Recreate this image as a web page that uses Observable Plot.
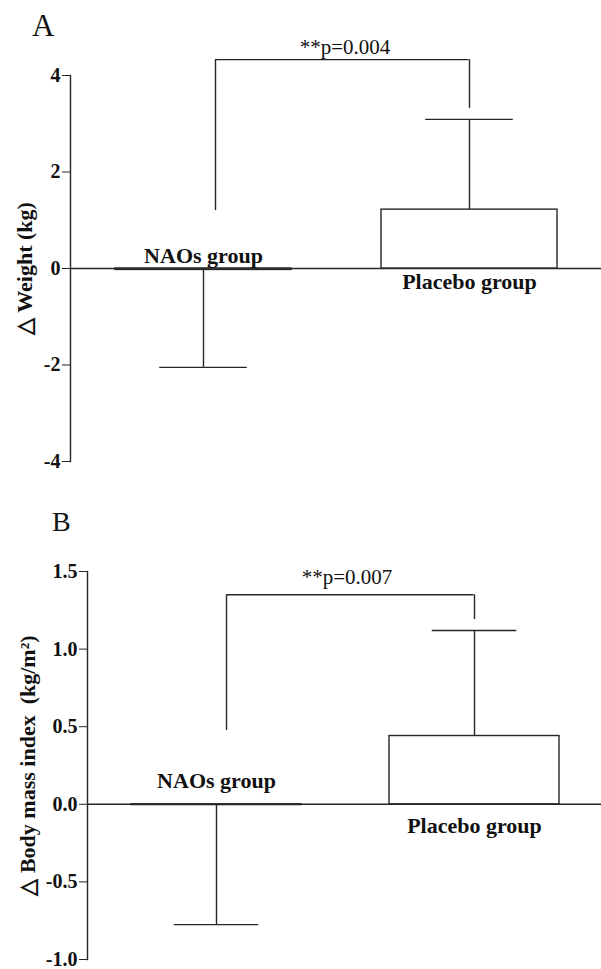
<!DOCTYPE html>
<html><head><meta charset="utf-8">
<script src="https://cdn.jsdelivr.net/npm/d3@7"></script>
<script src="https://cdn.jsdelivr.net/npm/@observablehq/plot@0.6"></script>
<style>
html,body{margin:0;padding:0;background:#fff;}
#wrap{position:relative;width:601px;height:969px;overflow:hidden;background:#fff;}
.letter{position:absolute;line-height:1;font-family:'Liberation Serif',serif;color:#111;}
.panel{position:absolute;left:0;}
</style></head><body>
<div id="wrap">
  <div class="panel" id="pa" style="top:0"></div>
  <div class="panel" id="pb" style="top:485px"></div>
  <div class="letter" style="left:32px;top:10px;font-size:31px">A</div>
  <div class="letter" style="left:52px;top:508px;font-size:28px">B</div>
</div>
<script>
// Categories
const groups = ["NAOs group", "Placebo group"];

// Panel A: change in weight (kg)
const weightMean = [-0.03, 1.22];
const weightSD = [2.02, 1.87];
const weightTicks = [-4, -2, 0, 2, 4];
const weightBracket = [4.33, 1.2, 3.32]; // top, left leg bottom, right leg bottom
const weightP = "**p=0.004";
const weightLabel = "△ Weight (kg)";

// Panel B: change in BMI (kg/m²)
const bmiMean = [-0.005, 0.44];
const bmiSD = [0.77, 0.68];
const bmiTicks = [-1, -0.5, 0, 0.5, 1, 1.5];
const bmiBracket = [1.35, 0.476, 1.19];
const bmiP = "**p=0.007";
const bmiLabel = "△ Body mass index  (kg/m²)";

const ink = "#262626";

function panel(o) {
  const rows = groups.map((g, i) => ({
    group: g,
    mean: o.mean[i],
    end: o.mean[i] + Math.sign(o.mean[i]) * o.sd[i]
  }));
  const br = [{from: groups[0], to: groups[1], top: o.bracket[0], lb: o.bracket[1], rb: o.bracket[2]}];
  const n = groups.length, pi = o.paddingInner, po = o.paddingOuter;
  const step = (o.range[1] - o.range[0]) / (n - pi + 2 * po);
  const bw = step * (1 - pi);
  return Plot.plot({
    width: 601, height: o.height,
    marginTop: o.marginTop, marginBottom: o.marginBottom, marginLeft: o.marginLeft, marginRight: 0,
    style: {fontFamily: "'Liberation Serif', serif", background: "white", color: "#111", overflow: "visible"},
    x: {type: "band", domain: groups, range: o.range, paddingInner: pi, paddingOuter: po, align: 0.5, axis: null},
    y: {domain: o.domain},
    marks: [
      Plot.ruleY([0], {stroke: ink, strokeWidth: 1.6}),
      Plot.barY(rows, {x: "group", y: "mean", fill: "white", stroke: ink, strokeWidth: 1.4}),
      Plot.ruleX(rows, {x: "group", y1: "mean", y2: "end", stroke: ink, strokeWidth: 1.4}),
      Plot.tickY(rows, {x: "group", y: "end", inset: bw * 0.25, stroke: ink, strokeWidth: 1.4}),
      Plot.frame({anchor: "left", stroke: ink, strokeWidth: 1.4}),
      Plot.axisY({ticks: o.ticks, tickFormat: o.format, tickSize: 8, tickPadding: 2, fontSize: 20, fontWeight: "bold", label: null, stroke: ink}),
      Plot.text([o.yLabel], {frameAnchor: "left", textAnchor: "middle", rotate: -90, dx: o.labelDx, fontSize: 22, fontWeight: "bold"}),
      Plot.text(rows.filter(d => d.mean < 0), {x: "group", y: () => 0, text: "group", lineAnchor: "bottom", dy: o.negDy, fontSize: 22, fontWeight: "bold"}),
      Plot.text(rows.filter(d => d.mean >= 0), {x: "group", y: () => 0, text: "group", lineAnchor: "top", dy: o.posDy, fontSize: 22, fontWeight: "bold"}),
      Plot.ruleX(br, {x: "from", y1: "lb", y2: "top", dx: o.legOffset, stroke: ink, strokeWidth: 1.4}),
      Plot.ruleX(br, {x: "to", y1: "rb", y2: "top", stroke: ink, strokeWidth: 1.4}),
      Plot.ruleY(br, {y: "top", x1: "from", x2: "to", insetLeft: bw / 2 + o.legOffset, insetRight: bw / 2, stroke: ink, strokeWidth: 1.4}),
      Plot.text(br, {y: "top", text: () => o.p, lineAnchor: "bottom", dy: o.pDy, dx: o.pDx, fontSize: 21})
    ]
  });
}

document.getElementById("pa").append(panel({
  mean: weightMean, sd: weightSD, ticks: weightTicks, format: d => String(d),
  bracket: weightBracket, p: weightP, yLabel: weightLabel,
  height: 485, marginTop: 75, marginBottom: 24, marginLeft: 70,
  domain: [-4, 4], range: [87.8, 585.2], paddingInner: 0.337, paddingOuter: 0.1,
  labelDx: -46, legOffset: 12, negDy: -6, posDy: 5, pDy: -6, pDx: 9
}));

document.getElementById("pb").append(panel({
  mean: bmiMean, sd: bmiSD, ticks: bmiTicks, format: d => d.toFixed(1),
  bracket: bmiBracket, p: bmiP, yLabel: bmiLabel,
  height: 484, marginTop: 86, marginBottom: 10, marginLeft: 87,
  domain: [-1, 1.5], range: [104.6, 586.3], paddingInner: 0.34, paddingOuter: 0.1,
  labelDx: -60, legOffset: 10, negDy: -16, posDy: 13, pDy: -11, pDx: 2.5
}));
</script>
</body></html>
